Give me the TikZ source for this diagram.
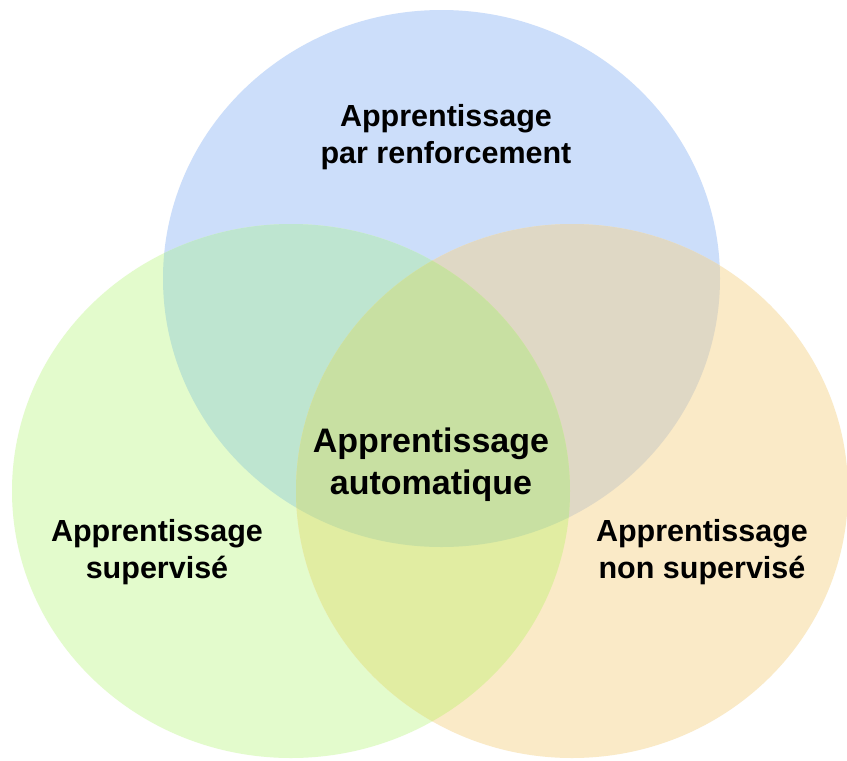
\documentclass[tikz,border=0pt]{standalone}
\usepackage{fontspec}
\setmainfont{Liberation Sans}
\definecolor{cblue}{HTML}{CCDEFA}
\definecolor{cgreen}{HTML}{E3FBCC}
\definecolor{corange}{HTML}{FAEAC7}
\definecolor{cbg}{HTML}{BEE5D0}
\definecolor{cbo}{HTML}{DFD8C5}
\definecolor{cgo}{HTML}{E1EDA2}
\definecolor{cbgo}{HTML}{C8E0A2}
\tikzset{
  label/.style={align=center, font=\bfseries\fontsize{30.5}{37}\selectfont, text=black, inner sep=0pt},
  biglabel/.style={align=center, font=\bfseries\fontsize{34}{42}\selectfont, text=black, inner sep=0pt}
}
\def\Blue{(441.5,278.5) ellipse [x radius=278.5pt, y radius=268.5pt]}
\def\Green{(291,491) ellipse [x radius=279pt, y radius=267pt]}
\def\Orange{(572,491) ellipse [x radius=276pt, y radius=267pt]}
\begin{document}
\begin{tikzpicture}[x=1pt,y=-1pt]
\useasboundingbox (0,0) rectangle (847,761);
\fill[white] (0,0) rectangle (847,761);
\fill[cblue] \Blue;
\fill[cgreen] \Green;
\fill[corange] \Orange;
\begin{scope}\clip \Blue; \fill[cbg] \Green; \end{scope}
\begin{scope}\clip \Blue; \fill[cbo] \Orange; \end{scope}
\begin{scope}\clip \Green; \fill[cgo] \Orange; \end{scope}
\begin{scope}\clip \Blue; \clip \Green; \fill[cbgo] \Orange; \end{scope}
\node[label] (renf) at (446,137) {Apprentissage\\par renforcement};
\node[biglabel] (auto) at (431,465) {Apprentissage\\automatique};
\node[label] (sup) at (157,552) {Apprentissage\\supervisé};
\node[label] (nonsup) at (702,552) {Apprentissage\\non supervisé};
\end{tikzpicture}
\end{document}
